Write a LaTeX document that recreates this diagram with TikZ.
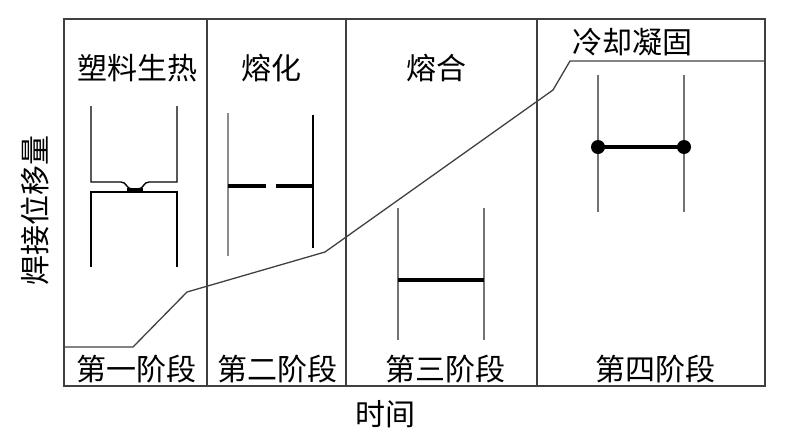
\documentclass[tikz,border=0pt]{standalone}
\usepackage{fontspec}
\setmainfont{Noto Sans CJK SC}
\usetikzlibrary{positioning}
\tikzstyle{frameline} = [draw=black!75, line width=1.3pt]
\tikzstyle{plate} = [draw=black!70, line width=1.4pt]
\tikzstyle{weld} = [draw=black, line width=3.8pt]
\tikzstyle{lbl} = [font=\fontsize{30}{32}\selectfont, inner sep=0pt]

\begin{document}
\begin{tikzpicture}[x=1pt, y=-1pt]
    \useasboundingbox (0,0) rectangle (793,440);
    % frame and stage dividers
    \draw [frameline] (64,19) rectangle (765,386);
    \foreach \xd in {207, 346, 537}
        \draw [frameline] (\xd,19) -- (\xd,386);
    % displacement curve
    \coordinate (c0) at (64,347);
    \coordinate (c1) at (133,347);
    \coordinate (c2) at (187,292);
    \coordinate (c3) at (325,252);
    \coordinate (c4) at (553,90);
    \coordinate (c5) at (570,61);
    \coordinate (c6) at (765,61);
    \draw [black!75, line width=1.3pt] (c0) -- (c1) -- (c2) -- (c3) -- (c4) -- (c5) -- (c6);
    % stage 1: plates heating
    \draw [plate, black] (91,106) -- (91,182) -- (121,182) .. controls (127,182) and (126,189) .. (132,189)
        -- (138,189) .. controls (144,189) and (143,182) .. (149,182) -- (177,182) -- (177,106);
    \draw [plate, black] (91,267) -- (91,192) -- (177,192) -- (177,267);
    \draw [black, line width=3pt] (127,189) -- (143,189);
    % stage 2: melting
    \draw [plate, black!45] (228,113) -- (228,256);
    \draw [plate, black] (313,115) -- (313,248);
    \draw [weld] (228,186) -- (266,186);
    \draw [weld] (276,186) -- (313,186);
    % stage 3: fusion
    \draw [plate, black!55] (398,208) -- (398,340);
    \draw [plate, black!55] (484,208) -- (484,340);
    \draw [weld] (398,280) -- (484,280);
    % stage 4: cooling
    \draw [plate, black!55] (598,75) -- (598,212);
    \draw [plate, black!55] (684,75) -- (684,212);
    \draw [weld] (598,147) -- (684,147);
    \fill (598,147) circle (7pt) (684,147) circle (7pt);
    % labels
    \node (t1) [lbl] at (137,68) {塑料生热};
    \node (t2) [lbl] at (271,68) {熔化};
    \node (t3) [lbl] at (436,68) {熔合};
    \node (t4) [lbl] at (632,42) {冷却凝固};
    \node (s1) [lbl] at (136,369) {第一阶段};
    \node (s2) [lbl] at (277,369) {第二阶段};
    \node (s3) [lbl] at (445,369) {第三阶段};
    \node (s4) [lbl] at (655,369) {第四阶段};
    \node (xl) [lbl] at (385,414) {时间};
    \node (yl) [lbl, rotate=90] at (35,210) {焊接位移量};
\end{tikzpicture}
\end{document}
